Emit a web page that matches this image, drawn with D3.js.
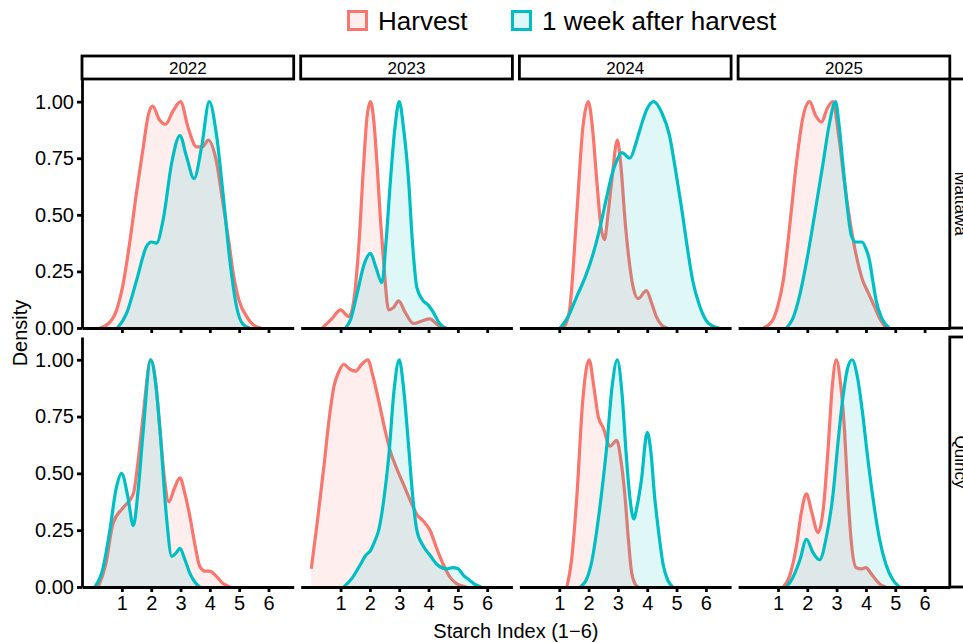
<!DOCTYPE html>
<html>
<head>
<meta charset="utf-8">
<script src="https://cdn.jsdelivr.net/npm/d3@7"></script>
<style>
  body { margin: 0; background: #fff; }
  text { font-family: "Liberation Sans", Arial, sans-serif; fill: #000; }
</style>
</head>
<body>
<div class="chart"></div>
<script>
const years = ['2022', '2023', '2024', '2025'];
const sites = ['Mattawa', 'Quincy'];
const groups = ['Harvest', '1 week after harvest'];
const groupColors = ['#F8766D', '#00BFC4'];
const xTicks = [1, 2, 3, 4, 5, 6];
const yTicks = [0, 0.25, 0.5, 0.75, 1];

// scaled density curves, [starch index, density]
const mattawa2022Harvest = [[0.25,0],[0.55,0.02],[0.82,0.08],[1.05,0.2],[1.27,0.38],[1.5,0.6],[1.73,0.8],[1.9,0.94],[2.05,0.98],[2.28,0.92],[2.49,0.9],[2.75,0.96],[3.0,1.0],[3.27,0.88],[3.55,0.8],[3.75,0.8],[3.95,0.83],[4.2,0.75],[4.46,0.54],[4.65,0.38],[4.8,0.24],[5.0,0.12],[5.26,0.05],[5.5,0.012],[5.75,0]];
const mattawa2022Week = [[0.85,0],[1.16,0.065],[1.5,0.21],[1.84,0.36],[2.0,0.38],[2.18,0.375],[2.41,0.48],[2.7,0.73],[2.98,0.85],[3.2,0.76],[3.46,0.66],[3.72,0.8],[3.98,1.0],[4.23,0.85],[4.46,0.58],[4.69,0.29],[4.91,0.095],[5.14,0.015],[5.37,0]];
const mattawa2023Harvest = [[0.38,0],[0.7,0.04],[1.0,0.08],[1.28,0.05],[1.45,0.12],[1.62,0.36],[1.79,0.73],[1.9,0.93],[2.02,1.0],[2.13,0.92],[2.24,0.73],[2.36,0.48],[2.47,0.29],[2.64,0.08],[2.8,0.09],[2.98,0.12],[3.2,0.07],[3.48,0.02],[3.75,0.03],[4.05,0.04],[4.3,0.015],[4.62,0]];
const mattawa2023Week = [[1.17,0],[1.35,0.04],[1.56,0.15],[1.8,0.28],[2.02,0.33],[2.2,0.27],[2.41,0.2],[2.55,0.38],[2.7,0.65],[2.85,0.88],[3.0,1.0],[3.15,0.88],[3.32,0.65],[3.45,0.38],[3.6,0.18],[3.82,0.12],[4.0,0.1],[4.16,0.07],[4.35,0.025],[4.56,0]];
const mattawa2024Harvest = [[1.15,0],[1.35,0.08],[1.6,0.51],[1.8,0.88],[1.99,1.0],[2.12,0.9],[2.28,0.65],[2.42,0.45],[2.54,0.39],[2.66,0.5],[2.79,0.65],[2.98,0.83],[3.1,0.72],[3.24,0.48],[3.38,0.3],[3.52,0.18],[3.69,0.13],[3.97,0.165],[4.15,0.11],[4.31,0.05],[4.5,0.012],[4.69,0]];
const mattawa2024Week = [[1.03,0],[1.3,0.05],[1.6,0.14],[1.9,0.23],[2.16,0.33],[2.4,0.45],[2.62,0.58],[2.8,0.68],[2.96,0.74],[3.13,0.775],[3.41,0.75],[3.6,0.81],[3.75,0.876],[4.0,0.97],[4.22,1.0],[4.5,0.95],[4.76,0.85],[4.95,0.71],[5.16,0.54],[5.35,0.37],[5.55,0.21],[5.78,0.1],[6.0,0.035],[6.2,0.01],[6.46,0]];
const mattawa2025Harvest = [[0.5,0],[0.8,0.03],[1.0,0.1],[1.18,0.21],[1.4,0.45],[1.63,0.73],[1.85,0.93],[2.08,1.0],[2.28,0.94],[2.48,0.91],[2.68,0.97],[2.87,1.0],[3.07,0.85],[3.27,0.64],[3.55,0.4],[3.89,0.21],[4.1,0.15],[4.29,0.095],[4.5,0.035],[4.68,0]];
const mattawa2025Week = [[1.29,0],[1.5,0.04],[1.75,0.15],[1.97,0.29],[2.25,0.5],[2.54,0.73],[2.75,0.9],[2.96,1.0],[3.08,0.9],[3.21,0.73],[3.35,0.55],[3.5,0.41],[3.65,0.38],[3.87,0.38],[4.0,0.35],[4.12,0.3],[4.22,0.22],[4.35,0.12],[4.55,0.04],[4.8,0]];
const quincy2022Harvest = [[0.19,0],[0.45,0.1],[0.7,0.28],[1.05,0.35],[1.39,0.41],[1.55,0.55],[1.73,0.76],[1.98,1.0],[2.15,0.9],[2.3,0.69],[2.45,0.48],[2.6,0.375],[2.78,0.43],[2.98,0.48],[3.15,0.41],[3.32,0.31],[3.5,0.18],[3.66,0.09],[3.85,0.07],[4.0,0.07],[4.2,0.05],[4.45,0.015],[4.69,0]];
const quincy2022Week = [[0.08,0],[0.35,0.08],[0.59,0.25],[0.8,0.43],[0.99,0.5],[1.2,0.4],[1.39,0.27],[1.55,0.42],[1.73,0.69],[1.98,1.0],[2.15,0.9],[2.3,0.69],[2.52,0.31],[2.7,0.135],[2.85,0.15],[2.98,0.17],[3.15,0.12],[3.32,0.06],[3.5,0.02],[3.66,0]];
const quincy2023Harvest = [[0.0,0.08],[0.2,0.28],[0.44,0.54],[0.62,0.75],[0.77,0.88],[0.95,0.95],[1.11,0.98],[1.3,0.96],[1.51,0.95],[1.72,0.98],[1.93,1.0],[2.1,0.93],[2.3,0.82],[2.5,0.7],[2.69,0.6],[2.92,0.52],[3.15,0.45],[3.38,0.38],[3.6,0.32],[3.82,0.29],[4.05,0.25],[4.25,0.18],[4.5,0.1],[4.75,0.04],[4.96,0.015],[5.3,0]];
const quincy2023Week = [[1.11,0],[1.4,0.04],[1.68,0.1],[1.86,0.14],[2.02,0.16],[2.16,0.2],[2.3,0.25],[2.47,0.38],[2.64,0.57],[2.82,0.86],[3.0,1.0],[3.16,0.86],[3.32,0.62],[3.46,0.4],[3.6,0.25],[3.82,0.18],[4.05,0.14],[4.28,0.1],[4.62,0.08],[4.82,0.085],[5.01,0.08],[5.2,0.05],[5.4,0.03],[5.6,0.01],[5.8,0]];
const quincy2024Harvest = [[1.26,0],[1.42,0.12],[1.6,0.4],[1.8,0.82],[2.02,1.0],[2.18,0.88],[2.33,0.75],[2.5,0.7],[2.73,0.62],[2.96,0.645],[3.1,0.56],[3.24,0.4],[3.35,0.22],[3.46,0.07],[3.58,0.015],[3.69,0]];
const quincy2024Week = [[1.71,0],[1.95,0.04],[2.12,0.12],[2.28,0.25],[2.45,0.42],[2.62,0.62],[2.8,0.88],[2.98,1.0],[3.14,0.85],[3.29,0.57],[3.42,0.38],[3.54,0.3],[3.66,0.36],[3.8,0.47],[4.0,0.68],[4.12,0.6],[4.25,0.4],[4.4,0.23],[4.54,0.1],[4.7,0.03],[4.87,0]];
const quincy2025Harvest = [[1.18,0],[1.4,0.05],[1.63,0.18],[1.8,0.33],[1.97,0.41],[2.15,0.33],[2.37,0.24],[2.55,0.35],[2.71,0.61],[2.85,0.88],[2.99,1.0],[3.13,0.9],[3.27,0.69],[3.38,0.42],[3.5,0.2],[3.67,0.085],[3.85,0.08],[4.0,0.085],[4.17,0.06],[4.35,0.03],[4.5,0.01],[4.68,0]];
const quincy2025Week = [[1.29,0],[1.5,0.04],[1.75,0.12],[1.97,0.21],[2.2,0.15],[2.42,0.12],[2.65,0.22],[2.87,0.4],[3.05,0.64],[3.21,0.83],[3.37,0.96],[3.53,1.0],[3.7,0.93],[3.89,0.76],[4.05,0.58],[4.23,0.4],[4.45,0.22],[4.68,0.1],[4.9,0.035],[5.14,0]];

const curves = {
  Mattawa: {
    '2022': [mattawa2022Harvest, mattawa2022Week],
    '2023': [mattawa2023Harvest, mattawa2023Week],
    '2024': [mattawa2024Harvest, mattawa2024Week],
    '2025': [mattawa2025Harvest, mattawa2025Week]
  },
  Quincy: {
    '2022': [quincy2022Harvest, quincy2022Week],
    '2023': [quincy2023Harvest, quincy2023Week],
    '2024': [quincy2024Harvest, quincy2024Week],
    '2025': [quincy2025Harvest, quincy2025Week]
  }
};

const width = 963, height = 643;

const svg = d3.select('.chart')
  .append('svg')
    .attr('width', width)
    .attr('height', height);

// panel grid
const panelLeft0 = 82, panelW = 211.7, panelGap = 7;
const rowTop = [79, 337], rowBottom = [328, 587];
const stripTop = 56, stripH = 23;
const axisW = 2.8;
const curveW = 3.2;

const x = d3.scaleLinear().domain([-0.36, 6.86]).range([0, panelW]);

// legend
const legend = svg.append('g');
const legendX = [347, 511];
groups.forEach((g, i) => {
  legend.append('rect')
    .attr('x', legendX[i] + 1.5)
    .attr('y', 11.5)
    .attr('width', 18)
    .attr('height', 18)
    .attr('fill', groupColors[i])
    .attr('fill-opacity', 0.12)
    .attr('stroke', groupColors[i])
    .attr('stroke-width', 3);
  legend.append('text')
    .attr('x', legendX[i] + 31)
    .attr('y', 30)
    .attr('font-size', 26)
    .text(g);
});

const area = d3.area()
  .x(d => d.px)
  .y0(d => d.base)
  .y1(d => d.py)
  .curve(d3.curveMonotoneX);

const line = d3.line()
  .x(d => d.px)
  .y(d => d.py)
  .curve(d3.curveMonotoneX);

sites.forEach((site, r) => {
  const y = d3.scaleLinear().domain([0, 1.1]).range([rowBottom[r], rowTop[r]]);

  years.forEach((year, c) => {
    const left = panelLeft0 + c * (panelW + panelGap);
    const graph = svg.append('g')
      .attr('transform', `translate(${left}, 0)`);

    curves[site][year].forEach((pts, gi) => {
      const data = pts.map(p => ({px: x(p[0]), py: y(p[1]), base: y(0)}));
      graph.append('path')
        .attr('d', area(data))
        .attr('fill', groupColors[gi])
        .attr('fill-opacity', 0.12);
      graph.append('path')
        .attr('d', line(data))
        .attr('fill', 'none')
        .attr('stroke', groupColors[gi])
        .attr('stroke-width', curveW)
        .attr('stroke-linejoin', 'round');
    });

    // x axis
    const xAxis = d3.axisBottom(x)
      .tickValues(xTicks)
      .tickSize(5)
      .tickSizeOuter(0)
      .tickPadding(4);
    const xg = graph.append('g')
      .attr('transform', `translate(0, ${rowBottom[r]})`)
      .call(xAxis);
    xg.select('.domain').attr('stroke', '#000').attr('stroke-width', axisW);
    xg.selectAll('.tick line').attr('stroke', '#000').attr('stroke-width', axisW);
    xg.selectAll('.tick text')
      .attr('font-size', 20)
      .attr('font-family', '"Liberation Sans", Arial, sans-serif')
      .attr('fill', '#000');
    if (r === 0) xg.selectAll('.tick text').remove();

    // y axis only in the first column
    if (c === 0) {
      const yAxis = d3.axisLeft(y)
        .tickValues(yTicks)
        .tickFormat(d3.format('.2f'))
        .tickSize(5)
        .tickSizeOuter(0)
        .tickPadding(3);
      const yg = graph.append('g').call(yAxis);
      yg.select('.domain').attr('stroke', '#000').attr('stroke-width', axisW);
      yg.selectAll('.tick line').attr('stroke', '#000').attr('stroke-width', axisW);
      yg.selectAll('.tick text')
        .attr('font-size', 20)
        .attr('font-family', '"Liberation Sans", Arial, sans-serif')
        .attr('fill', '#000');
    }

    // year strips on top
    if (r === 0) {
      graph.append('rect')
        .attr('x', 0)
        .attr('y', stripTop)
        .attr('width', panelW)
        .attr('height', stripH)
        .attr('fill', '#fff')
        .attr('stroke', '#000')
        .attr('stroke-width', axisW);
      graph.append('text')
        .attr('x', panelW / 2)
        .attr('y', stripTop + stripH / 2 + 6)
        .attr('text-anchor', 'middle')
        .attr('font-size', 17)
        .text(year);
    }
  });

  // site strip on the right (runs off the page, as in the original)
  const stripX = panelLeft0 + 4 * panelW + 3 * panelGap;
  svg.append('rect')
    .attr('x', stripX)
    .attr('y', rowTop[r])
    .attr('width', 30)
    .attr('height', rowBottom[r] - rowTop[r])
    .attr('fill', '#fff')
    .attr('stroke', '#000')
    .attr('stroke-width', axisW);
  const cy = (rowTop[r] + rowBottom[r]) / 2;
  svg.append('text')
    .attr('transform', `translate(${stripX + 5}, ${cy}) rotate(90)`)
    .attr('text-anchor', 'middle')
    .attr('font-size', 17)
    .text(site);
});

// axis titles
svg.append('text')
  .attr('x', panelLeft0 + (4 * panelW + 3 * panelGap) / 2)
  .attr('y', 638)
  .attr('text-anchor', 'middle')
  .attr('font-size', 20)
  .text('Starch Index (1\u22126)');

svg.append('text')
  .attr('transform', `translate(27, ${(rowTop[0] + rowBottom[1]) / 2}) rotate(-90)`)
  .attr('text-anchor', 'middle')
  .attr('font-size', 20)
  .text('Density');
</script>
</body>
</html>
